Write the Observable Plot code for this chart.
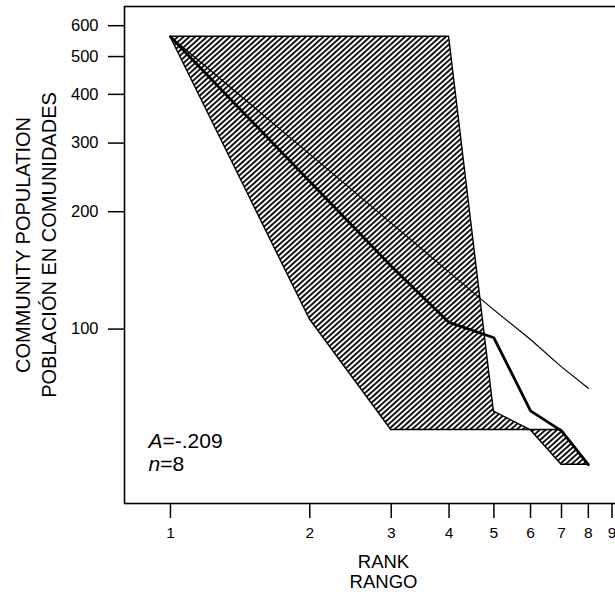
<!DOCTYPE html>
<html><head><meta charset="utf-8">
<script src="https://cdn.jsdelivr.net/npm/d3@7"></script>
<script src="https://cdn.jsdelivr.net/npm/@observablehq/plot@0.6"></script>
<style>
html,body{margin:0;padding:0;background:#fff;overflow:hidden;}
#chart{width:615px;height:594px;overflow:hidden;}
#chart svg{max-width:none !important;}
</style></head><body><div id="chart"></div>
<script>
// Rank-size data
const ranks = [1, 2, 3, 4, 5, 6, 7, 8];
const observed = [562, 239, 145, 104, 95, 61.7, 54.8, 44.9];
const rankSizeLine = [562, 281, 187, 140, 112, 94, 80, 70.5];
const envelopeUpper = [562, 562, 562, 562, 61.4, 55.1, 55.1, 44.9];
const envelopeLower = [562, 106, 55.1, 55.1, 55.1, 55.1, 44.9, 44.9];
const xTicks = [1, 2, 3, 4, 5, 6, 7, 8, 9];
const yTicks = [100, 200, 300, 400, 500, 600];
const xTitle = "RANK\nRANGO";
const yTitle = "COMMUNITY POPULATION\nPOBLACIÓN EN COMUNIDADES";
const statA = "A=-.209";
const statN = "n=8";

const rows = ranks.map((r, i) => ({
  rank: r, obs: observed[i], zipf: rankSizeLine[i],
  upper: envelopeUpper[i], lower: envelopeLower[i]
}));

const svg = Plot.plot({
  width: 640,
  height: 594,
  marginLeft: 124,
  marginRight: 12,
  marginTop: 6,
  marginBottom: 91,
  style: {fontFamily: "'Liberation Sans', Arial, Helvetica, sans-serif", color: "black", background: "white", overflow: "visible", maxWidth: "none"},
  x: {type: "log", domain: [0.7956, 9.769]},
  y: {type: "log", domain: [35.7, 672]},
  marks: [
    Plot.areaY(rows, {x: "rank", y1: "lower", y2: "upper", fill: "url(#hatch)", stroke: "black", strokeWidth: 1.4}),
    Plot.line(rows, {x: "rank", y: "zipf", stroke: "black", strokeWidth: 1.2}),
    Plot.line(rows, {x: "rank", y: "obs", stroke: "black", strokeWidth: 2.8, strokeLinejoin: "round"}),
    Plot.frame({stroke: "black", strokeWidth: 1.6}),
    Plot.axisX({ticks: xTicks, tickFormat: d => String(d), tickSize: 15, tickPadding: 8, fontSize: 16, label: null, strokeWidth: 1.5}),
    Plot.axisY({ticks: yTicks, tickFormat: d => String(d), tickSize: 16, tickPadding: 10, fontSize: 16.5, label: null, strokeWidth: 1.5}),
    Plot.text([xTitle], {text: d => d, frameAnchor: "bottom", textAnchor: "middle", dx: 7, dy: 68, fontSize: 18.5, lineHeight: 1.1, lineAnchor: "middle"}),
    Plot.text([yTitle], {text: d => d, frameAnchor: "left", textAnchor: "middle", rotate: -90, dx: -90, dy: -10, fontSize: 20, lineHeight: 1.3, lineAnchor: "middle"}),
    Plot.text([statA + "\n" + statN], {text: d => d, frameAnchor: "bottom-left", textAnchor: "start", lineAnchor: "bottom", dx: 24, dy: -33, fontSize: 21, lineHeight: 1.08})
  ]
});

// hatch pattern for the envelope
const defs = d3.select(svg).insert("defs", ":first-child");
const pat = defs.append("pattern").attr("id", "hatch").attr("patternUnits", "userSpaceOnUse")
  .attr("width", 10).attr("height", 3.9).attr("patternTransform", "rotate(-42)");
pat.append("rect").attr("width", 10).attr("height", 3.9).attr("fill", "white");
pat.append("line").attr("x1", -1).attr("x2", 11).attr("y1", 1.95).attr("y2", 1.95)
  .attr("stroke", "black").attr("stroke-width", 1.8);

// tick label sizes
d3.select(svg).selectAll('g[aria-label="x-axis tick label"]').style("font-size", "15.5px").attr("font-size", "15.5");
d3.select(svg).selectAll('g[aria-label="y-axis tick label"]').style("font-size", "16.5px").attr("font-size", "16.5");

// italic variable names
d3.select(svg).selectAll("tspan, text").each(function() {
  if (this.childElementCount) return;
  const t = this.textContent;
  if (t === statA) this.innerHTML = '<tspan font-style="italic">A</tspan>=-.209';
  else if (t === statN) this.innerHTML = '<tspan font-style="italic">n</tspan>=8';
});

document.getElementById("chart").append(svg);
</script></body></html>
